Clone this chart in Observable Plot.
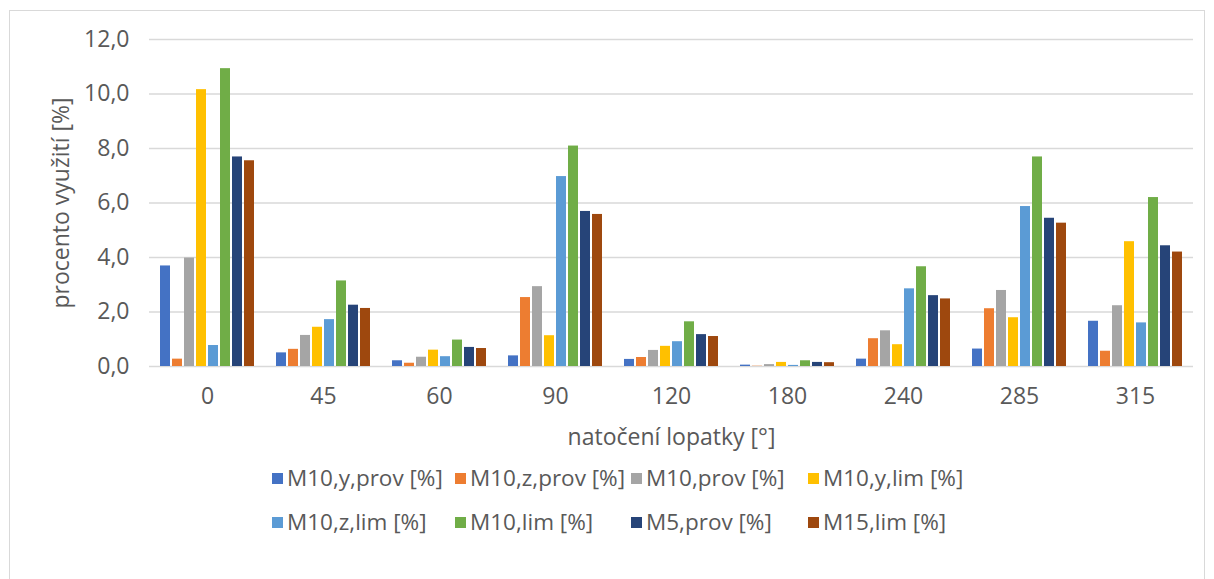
<!DOCTYPE html>
<html>
<head>
<meta charset="utf-8">
<script src="https://cdn.jsdelivr.net/npm/d3@7"></script>
<script src="https://cdn.jsdelivr.net/npm/@observablehq/plot@0.6"></script>
<style>
  html, body { margin: 0; padding: 0; background: #fff; }
  body { width: 1214px; height: 579px; position: relative; overflow: hidden; font-family: "Open Sans", sans-serif; }
  #frame { position: absolute; left: 9px; top: 10px; width: 1196px; height: 580px; border: 1px solid #d9d9d9; box-sizing: border-box; }
  #chart { position: absolute; left: 0; top: 0; }
  #legend { position: absolute; left: 272px; top: 464px; display: grid; grid-template-columns: 183px 176px 177px auto; row-gap: 16px; color: #595959; font-size: 22.5px; line-height: 28px; }
  .item { display: flex; align-items: center; white-space: nowrap; }
  .sw { width: 11px; height: 11px; margin-right: 4px; flex: none; }
</style>
</head>
<body>
<div id="frame"></div>
<div id="chart"></div>
<div id="legend"></div>
<script>
const angles = ["0", "45", "60", "90", "120", "180", "240", "285", "315"];
const seriesNames = ["M10,y,prov [%]", "M10,z,prov [%]", "M10,prov [%]", "M10,y,lim [%]", "M10,z,lim [%]", "M10,lim [%]", "M5,prov [%]", "M15,lim [%]"];
const seriesColors = ["#4472C4", "#ED7D31", "#A5A5A5", "#FFC000", "#5B9BD5", "#70AD47", "#264478", "#9E480E"];
const yTicks = [0, 2, 4, 6, 8, 10, 12];

const m10yProv = [3.69, 0.50, 0.21, 0.39, 0.26, 0.05, 0.27, 0.64, 1.66];
const m10zProv = [0.27, 0.63, 0.12, 2.53, 0.33, 0.01, 1.02, 2.12, 0.56];
const m10Prov  = [3.98, 1.14, 0.34, 2.93, 0.59, 0.07, 1.31, 2.79, 2.23];
const m10yLim  = [10.16, 1.44, 0.60, 1.13, 0.74, 0.15, 0.80, 1.79, 4.58];
const m10zLim  = [0.77, 1.72, 0.36, 6.97, 0.91, 0.04, 2.85, 5.87, 1.60];
const m10Lim   = [10.93, 3.14, 0.97, 8.09, 1.64, 0.21, 3.66, 7.69, 6.20];
const m5Prov   = [7.69, 2.25, 0.70, 5.69, 1.17, 0.15, 2.60, 5.44, 4.43];
const m15Lim   = [7.55, 2.13, 0.66, 5.58, 1.10, 0.14, 2.48, 5.26, 4.20];

const seriesValues = [m10yProv, m10zProv, m10Prov, m10yLim, m10zLim, m10Lim, m5Prov, m15Lim];
const data = [];
angles.forEach((a, i) => {
  seriesNames.forEach((s, j) => data.push({angle: a, series: s, value: seriesValues[j][i]}));
});

const fmt = d => d.toFixed(1).replace(".", ",");
const textColor = "#595959";

const chart = Plot.plot({
  width: 1214,
  height: 460,
  marginLeft: 147,
  marginRight: 19,
  marginTop: 39,
  marginBottom: 94,
  style: {fontFamily: "Open Sans, sans-serif", fontSize: "23px", color: textColor, background: "transparent", overflow: "visible"},
  fx: {domain: angles, paddingInner: 0, paddingOuter: 0},
  x: {domain: seriesNames, paddingInner: 0.2, paddingOuter: 0.8, axis: null},
  y: {domain: [0, 12]},
  color: {domain: seriesNames, range: seriesColors},
  marks: [
    Plot.gridY(yTicks, {stroke: "#d9d9d9", strokeOpacity: 1, strokeWidth: 1.5}),
    Plot.axisY(yTicks, {anchor: "left", tickSize: 0, tickPadding: 20, tickFormat: fmt, fill: textColor, fontSize: 23,
      label: "procento využití [%]", labelAnchor: "center", labelOffset: 97, labelArrow: false}),
    Plot.axisFx({anchor: "bottom", tickSize: 0, tickPadding: 21, fill: textColor, fontSize: 23,
      label: "natočení lopatky [°]", labelAnchor: "center", labelOffset: 78, labelArrow: false}),
    Plot.barY(data, {fx: "angle", x: "series", y: "value", fill: "series"})
  ]
});
document.getElementById("chart").appendChild(chart);

const legend = document.getElementById("legend");
seriesNames.forEach((s, j) => {
  const it = document.createElement("div");
  it.className = "item";
  const sw = document.createElement("span");
  sw.className = "sw";
  sw.style.background = seriesColors[j];
  const t = document.createElement("span");
  t.textContent = s;
  it.appendChild(sw);
  it.appendChild(t);
  legend.appendChild(it);
});
</script>
</body>
</html>
